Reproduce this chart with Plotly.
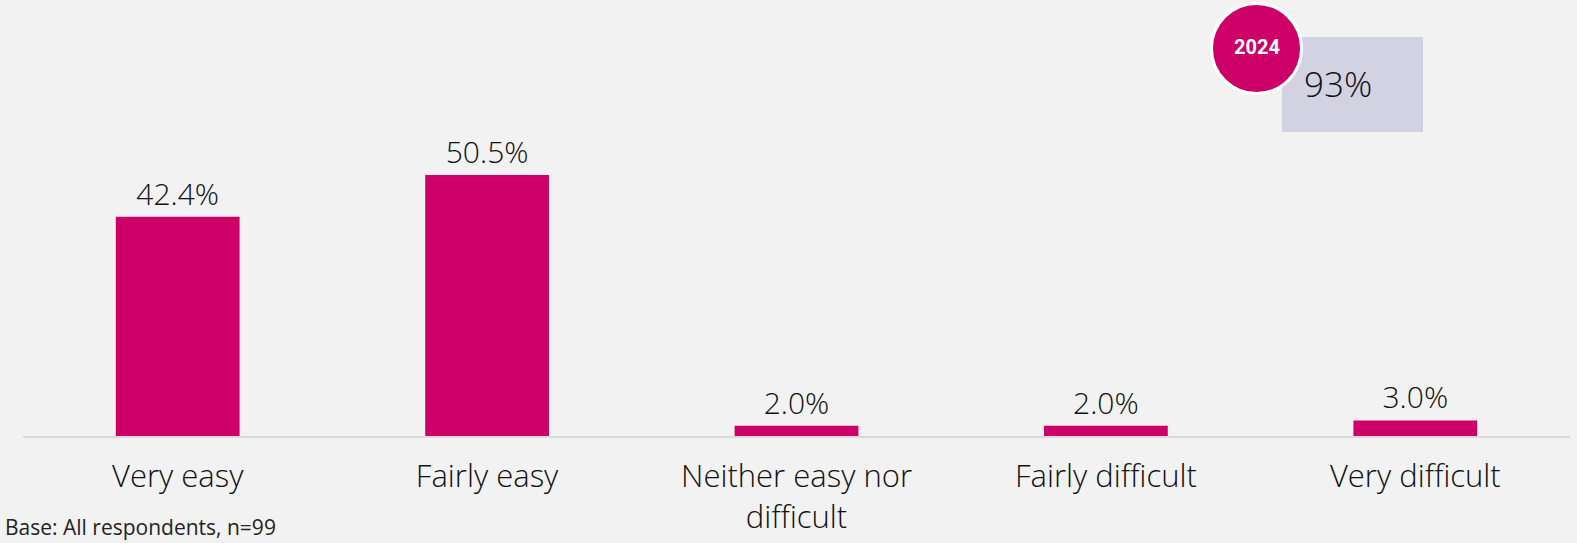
import plotly.graph_objects as go

categories = ["Very easy", "Fairly easy", "Neither easy nor<br>difficult", "Fairly difficult", "Very difficult"]
values = [42.4, 50.5, 2.0, 2.0, 3.0]
value_labels = ["42.4%", "50.5%", "2.0%", "2.0%", "3.0%"]
badge_year = "2024"
badge_value = "93%"
base_note = "Base: All respondents, n=99"

W, H = 1577, 543
L, R, T, B = 23, 7, 0, 107
PW, PH = W - L - R, H - T - B

def px_x(p):
    return (p - L) / PW

def px_y(p):
    return (H - B - p) / PH

FONT = "Open Sans"
MAGENTA = "#cc0066"

fig = go.Figure(go.Bar(
    x=categories, y=values, text=value_labels,
    textposition="outside", cliponaxis=False, constraintext="none",
    textfont=dict(family=FONT, size=30, color="#111111", weight=300),
    marker=dict(color=MAGENTA, line=dict(width=0)),
    hoverinfo="skip",
))

shapes = [
    dict(type="rect", xref="paper", yref="paper",
         x0=px_x(1282), x1=px_x(1423), y0=px_y(132), y1=px_y(37),
         fillcolor="#d2d2e3", line=dict(width=0), layer="above"),
    dict(type="circle", xref="paper", yref="paper",
         x0=px_x(1256.5 - 45), x1=px_x(1256.5 + 45),
         y0=px_y(48.5 + 45), y1=px_y(48.5 - 45),
         fillcolor=MAGENTA, line=dict(color="white", width=3), layer="above"),
]

annotations = [
    dict(xref="paper", yref="paper", x=px_x(1256.5), y=px_y(47), text=f"<b>{badge_year}</b>",
         showarrow=False, xanchor="center", yanchor="middle",
         font=dict(family="Roboto", size=20, color="white")),
    dict(xref="paper", yref="paper", x=px_x(1338), y=px_y(84), text=badge_value,
         showarrow=False, xanchor="center", yanchor="middle",
         font=dict(family=FONT, size=35, color="#111111", weight=300)),
    dict(xref="paper", yref="paper", x=px_x(3), y=px_y(527), text=base_note,
         showarrow=False, xanchor="left", yanchor="middle",
         font=dict(family=FONT, size=21, color="#222222")),
]

fig.update_layout(
    width=W, height=H,
    margin=dict(l=L, r=R, t=T, b=B, pad=0),
    paper_bgcolor="#f2f2f2", plot_bgcolor="#f2f2f2",
    bargap=0.6, showlegend=False, hovermode=False,
    shapes=shapes, annotations=annotations,
    xaxis=dict(showline=True, linecolor="#d9d9d9", linewidth=2, ticks="",
               showgrid=False, zeroline=False, ticklabelstandoff=12,
               tickfont=dict(family=FONT, size=31, color="#111111", weight=300)),
    yaxis=dict(range=[0, PH / 5.17], visible=False, showgrid=False, zeroline=False),
)

fig.write_html("out.html", config={"displayModeBar": False},
               post_script="document.body.style.margin='0';document.body.style.background='#f2f2f2';")
